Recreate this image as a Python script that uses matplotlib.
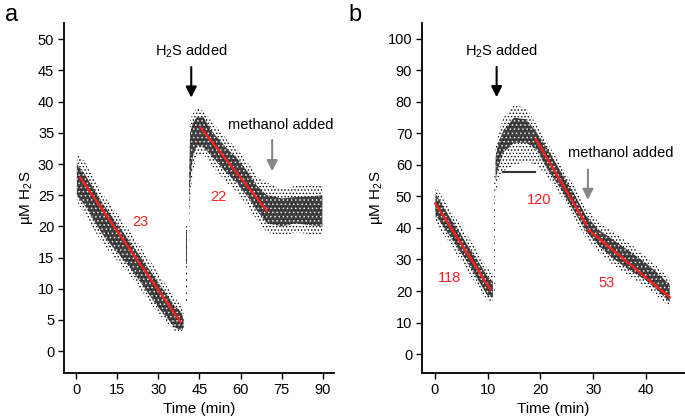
import numpy as np
import matplotlib.pyplot as plt

plt.rcParams['font.family'] = ['Liberation Sans', 'DejaVu Sans']
plt.rcParams['mathtext.fontset'] = 'custom'
plt.rcParams['mathtext.rm'] = 'Liberation Sans'
plt.rcParams['hatch.linewidth'] = 0.6

# ---- panel a : H2S readings (envelopes of the scatter cloud)
a1_t = [0.3, 3, 10, 20, 30, 36, 38.5, 39.2]
a1_hi = [30, 28.5, 23.5, 17.3, 11, 7.2, 6.2, 5]
a1_lo = [25, 23.5, 18.5, 13.2, 7, 3.8, 3.3, 3.8]
a1_hi_out = [31.5, 30.5, 25, 19, 12.5, 8.5, 7.5, 6]
a1_lo_out = [24, 22, 17, 12, 6, 3.2, 3, 3.5]

a_spike_t = [40.2, 40.6]
a_spike_hi = [19.5, 19.5]
a_spike_lo = [14, 14]
a_spike_hi_out = [20, 20]
a_spike_lo_out = [8, 8]

a2_t = [41.2, 41.6, 42.5, 44, 46.5, 50, 55, 58.6, 63, 66, 69.6, 75, 80, 85, 89.8]
a2_hi = [27, 35, 36.5, 37.5, 37.5, 35, 32.5, 31, 28.5, 26.5, 25, 24.5, 24.7, 24.8, 25]
a2_lo = [23, 27, 31, 33, 32.7, 31, 28.5, 27, 24.5, 22.5, 20.5, 20, 20.5, 20.2, 20]
a2_hi_out = [28, 37, 38, 39, 38.5, 36.5, 34, 32.5, 30, 28, 27, 26, 26.5, 26.8, 26.5]
a2_lo_out = [16, 25, 28.5, 31.5, 31.5, 29.5, 27, 25.5, 23, 21, 19, 18.5, 19, 18.8, 18.5]

a_fits = [([1.5, 38], [27.8, 4.7], '23', (23.6, 20.7)),
          ([45.5, 69.6], [35.8, 22.5], '22', (52, 24.7))]

# ---- panel b
b1_t = [0.1, 2, 4, 6, 8, 10, 11]
b1_hi = [51, 45.5, 40.5, 35, 30, 24.5, 23]
b1_lo = [44, 39.5, 34.5, 29.5, 24, 18.5, 18]
b1_hi_out = [53.5, 48, 43, 38, 33, 27, 26]
b1_lo_out = [42, 37, 32, 27, 21.5, 17, 16.5]

b_spike_t = [11.2, 11.4]
b_spike_hi_out = [58, 58]
b_spike_lo_out = [20, 20]

b2_t = [11.5, 12, 13, 15, 17.3, 19.2, 21, 24.2, 26.5, 28.6, 31, 33.6, 37, 39.9, 42, 44.5]
b2_hi = [62, 67, 71, 75, 74.5, 70.5, 66, 57, 50.5, 44, 39.5, 36.5, 32.5, 29, 26, 22]
b2_lo = [55, 59, 64, 67, 67, 65, 59.5, 51.5, 45, 39, 34.5, 30.5, 26.5, 23.5, 20.5, 16.5]
b2_hi_out = [65, 70, 75, 79, 78, 73, 68, 59, 53, 46.5, 42, 39, 35, 31, 28, 24]
b2_lo_out = [50, 56, 58, 60, 61, 60, 57, 49.5, 43, 37, 32.5, 28.5, 24.5, 21.5, 18.5, 15]

b_fits = [([0.1, 10.5], [47.8, 20.5], '118', (2.8, 24)),
          ([19.1, 28.7], [68.2, 41], '120', (19.8, 49)),
          ([29.1, 44.5], [39.4, 18], '53', (32.5, 22.6))]

RED = '#ff1f1f'


def cloud(ax, t, lo_out, hi_out, lo=None, hi=None):
    ax.fill_between(t, lo_out, hi_out, facecolor='none', edgecolor='black',
                    hatch='.....', linewidth=0)
    if lo is not None:
        ax.fill_between(t, lo, hi, facecolor='#222222', edgecolor='white',
                        hatch='....', alpha=0.85, linewidth=0)


def style(ax, xlim, ylim, xticks, yticks):
    ax.set_xlim(*xlim)
    ax.set_ylim(*ylim)
    ax.set_xticks(xticks)
    ax.set_yticks(yticks)
    for s in ['top', 'right']:
        ax.spines[s].set_visible(False)
    for s in ['left', 'bottom']:
        ax.spines[s].set_linewidth(1.3)
    ax.tick_params(length=4, width=1, labelsize=10.5, pad=3)
    ax.set_xlabel('Time (min)', fontsize=11, labelpad=4)
    ax.set_ylabel(r'µM H$_\mathregular{2}$S', fontsize=11, labelpad=2)


fig = plt.figure(figsize=(6.85, 4.2), dpi=100)

# panel a
ax = fig.add_axes([0.0934, 0.112, 0.394, 0.833])
cloud(ax, a1_t, a1_lo_out, a1_hi_out, a1_lo, a1_hi)
cloud(ax, a_spike_t, a_spike_lo_out, a_spike_hi_out, a_spike_lo, a_spike_hi)
cloud(ax, a2_t, a2_lo_out, a2_hi_out, a2_lo, a2_hi)
for xs, ys, lab, pos in a_fits:
    ax.plot(xs, ys, color=RED, lw=1.7)
    ax.text(pos[0], pos[1], lab, color=RED, fontsize=10.5, ha='center', va='center')
ax.annotate('', xy=(42, 40.2), xytext=(42, 46),
            arrowprops=dict(arrowstyle='-|>', color='black', lw=1.5, mutation_scale=16))
ax.text(42, 48.1, r'H$_\mathregular{2}$S added', fontsize=10.5, ha='center', va='center')
ax.annotate('', xy=(71.5, 28.4), xytext=(71.5, 34.3),
            arrowprops=dict(arrowstyle='-|>', color='#888888', lw=1.5, mutation_scale=16))
ax.text(74.5, 36.3, 'methanol added', fontsize=10.5, ha='center', va='center')
style(ax, (-4.4, 94), (-3.5, 52.6), range(0, 91, 15), range(0, 51, 5))
fig.text(0.008, 0.965, 'a', fontsize=17, va='center')

# panel b
ax = fig.add_axes([0.616, 0.112, 0.384, 0.833])
cloud(ax, b1_t, b1_lo_out, b1_hi_out, b1_lo, b1_hi)
cloud(ax, b_spike_t, b_spike_lo_out, b_spike_hi_out)
cloud(ax, b2_t, b2_lo_out, b2_hi_out, b2_lo, b2_hi)
for xs, ys, lab, pos in b_fits:
    ax.plot(xs, ys, color=RED, lw=1.7)
    ax.text(pos[0], pos[1], lab, color=RED, fontsize=10.5, ha='center', va='center')
ax.plot([13, 18.9], [57.8, 57.8], color='#333333', lw=1.5)
ax.annotate('', xy=(11.7, 80.6), xytext=(11.7, 92),
            arrowprops=dict(arrowstyle='-|>', color='black', lw=1.5, mutation_scale=16))
ax.text(12.6, 96.2, r'H$_\mathregular{2}$S added', fontsize=10.5, ha='center', va='center')
ax.annotate('', xy=(29, 48), xytext=(29, 59.4),
            arrowprops=dict(arrowstyle='-|>', color='#888888', lw=1.5, mutation_scale=16))
ax.text(35.3, 63.8, 'methanol added', fontsize=10.5, ha='center', va='center')
style(ax, (-2.45, 47.4), (-6, 105), range(0, 41, 10), range(0, 101, 10))
fig.text(0.508, 0.965, 'b', fontsize=17, va='center')

fig.savefig('out.png', dpi=100)
